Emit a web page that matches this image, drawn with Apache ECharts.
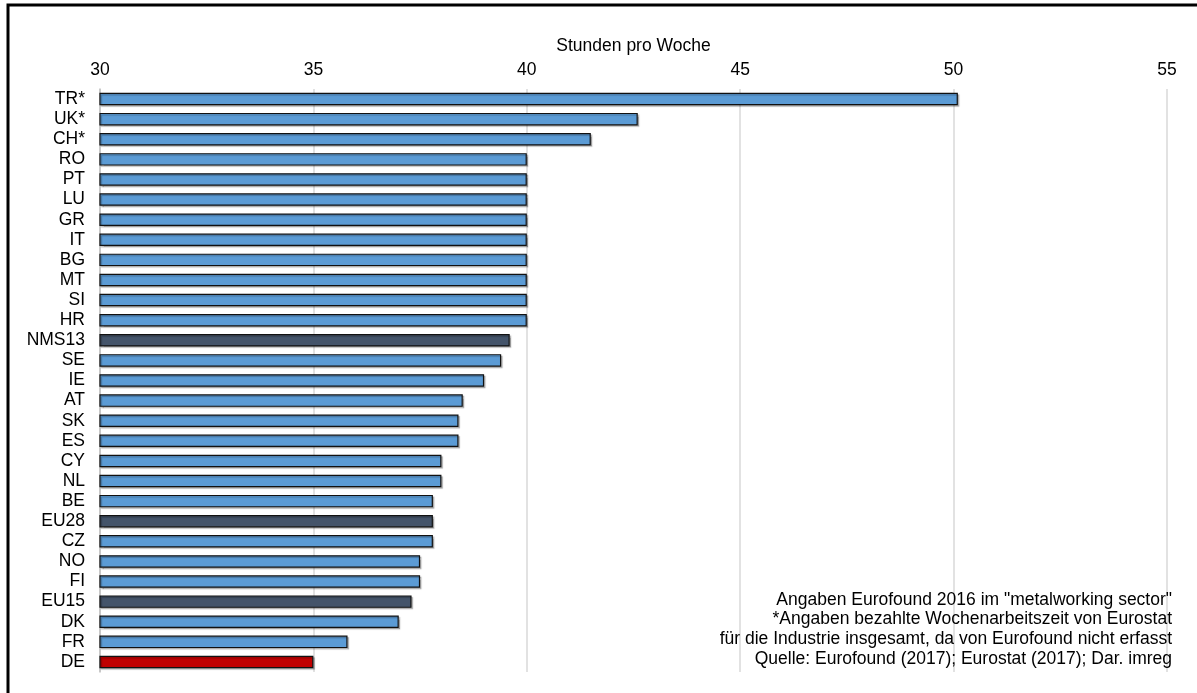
<!DOCTYPE html>
<html>
<head>
<meta charset="utf-8">
<style>
  html, body { margin: 0; padding: 0; background: #ffffff; }
  #chart { width: 1197px; height: 693px; }
</style>
<script src="https://cdn.jsdelivr.net/npm/echarts@6/dist/echarts.min.js"></script>
</head>
<body>
<div id="chart"></div>
<script>
// Vereinbarte Wochenarbeitszeit (Stunden pro Woche)
const countries = ['TR*', 'UK*', 'CH*', 'RO', 'PT', 'LU', 'GR', 'IT', 'BG', 'MT', 'SI', 'HR',
  'NMS13', 'SE', 'IE', 'AT', 'SK', 'ES', 'CY', 'NL', 'BE', 'EU28', 'CZ', 'NO', 'FI',
  'EU15', 'DK', 'FR', 'DE'];
const hours = [50.1, 42.6, 41.5, 40.0, 40.0, 40.0, 40.0, 40.0, 40.0, 40.0, 40.0, 40.0,
  39.6, 39.4, 39.0, 38.5, 38.4, 38.4, 38.0, 38.0, 37.8, 37.8, 37.8, 37.5, 37.5,
  37.3, 37.0, 35.8, 35.0];
const aggregates = ['NMS13', 'EU28', 'EU15'];
const highlighted = ['DE'];
const axisTicks = [30, 35, 40, 45, 50, 55];
const axisTitle = 'Stunden pro Woche';
const notes = [
  'Angaben Eurofound 2016 im "metalworking sector"',
  '*Angaben bezahlte Wochenarbeitszeit von Eurostat',
  'für die Industrie insgesamt, da von Eurofound nicht erfasst',
  'Quelle: Eurofound (2017); Eurostat (2017); Dar. imreg'
];

const COLOR_COUNTRY = '#5B9BD5';
const COLOR_AGG = '#44546A';
const COLOR_DE = '#C00000';

function barColor(name) {
  if (highlighted.includes(name)) return COLOR_DE;
  if (aggregates.includes(name)) return COLOR_AGG;
  return COLOR_COUNTRY;
}

const chart = echarts.init(document.getElementById('chart'), null, { renderer: 'canvas' });
const FONT = 'Liberation Sans, Arial, sans-serif';
const FS = 17.5;

chart.setOption({
  animation: false,
  backgroundColor: '#ffffff',
  grid: { left: 100, right: 30, top: 89, bottom: 21, containLabel: false },
  xAxis: {
    type: 'value',
    position: 'top',
    min: axisTicks[0],
    max: axisTicks[axisTicks.length - 1],
    interval: axisTicks[1] - axisTicks[0],
    name: axisTitle,
    nameLocation: 'middle',
    nameGap: 34,
    nameTextStyle: { fontFamily: FONT, fontSize: FS, color: '#000' },
    axisLine: { show: false },
    axisTick: { show: false },
    axisLabel: { fontFamily: FONT, fontSize: FS, color: '#000', margin: 10 },
    splitLine: { show: true, lineStyle: { color: '#D9D9D9', width: 1.5 } }
  },
  yAxis: {
    type: 'category',
    inverse: true,
    data: countries,
    axisLine: { show: true, lineStyle: { color: '#BFBFBF', width: 1.5 } },
    axisTick: { show: false },
    axisLabel: { fontFamily: FONT, fontSize: FS, color: '#000', margin: 15, interval: 0 }
  },
  series: [{
    type: 'bar',
    barCategoryGap: '38%',
    data: hours.map((v, i) => ({
      value: v,
      itemStyle: { color: barColor(countries[i]) }
    })),
    itemStyle: {
      borderColor: '#111111',
      borderWidth: 1.2,
      shadowColor: 'rgba(0,0,0,0.25)',
      shadowOffsetX: 1.5,
      shadowOffsetY: 1.5,
      shadowBlur: 1
    }
  }],
  graphic: [
    {
      type: 'rect',
      shape: { x: 8, y: 5, width: 1300, height: 800 },
      style: { fill: null, stroke: '#000', lineWidth: 3 },
      silent: true,
      z: 100
    },
    {
      type: 'text',
      x: 1172,
      y: 590,
      style: {
        text: notes.join('\n'),
        fontFamily: FONT,
        fontSize: FS,
        lineHeight: 19.7,
        fill: '#000',
        align: 'right',
        verticalAlign: 'top'
      },
      z: 50
    }
  ]
});
</script>
</body>
</html>
